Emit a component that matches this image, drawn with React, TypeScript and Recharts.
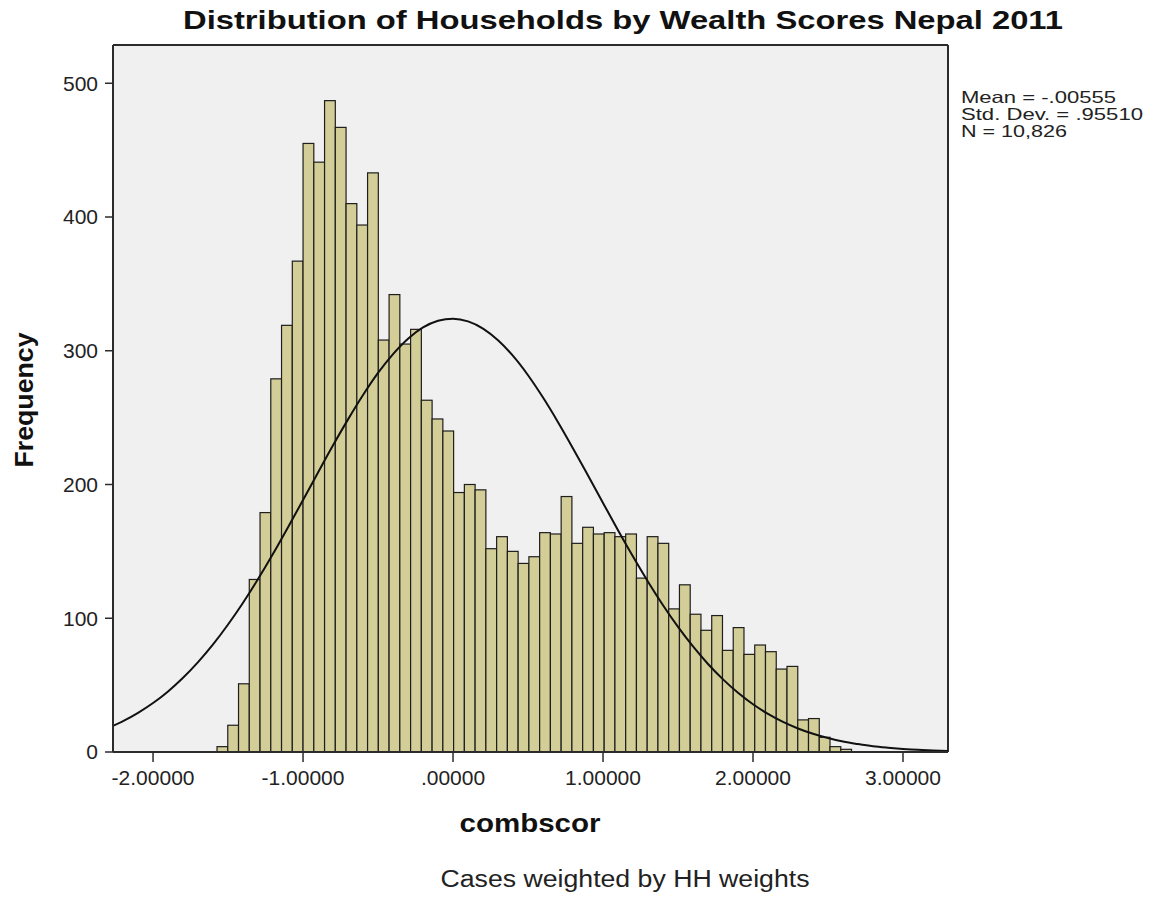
import React from 'react';
import { ComposedChart, Bar, Line, XAxis, YAxis, CartesianGrid, ReferenceLine } from 'recharts';

// ---- data ----
const BIN_START = -1.5735;
const BIN_WIDTH = 0.0717;
const binCounts = [
  4, 20, 51, 129, 179, 279, 319, 367, 455, 441,
  487, 467, 410, 394, 433, 308, 342, 305, 316, 263,
  249, 240, 194, 200, 196, 152, 161, 150, 141, 146,
  164, 163, 191, 156, 168, 163, 164, 161, 163, 130,
  161, 156, 107, 125, 103, 91, 102, 76, 93, 73,
  80, 75, 62, 64, 24, 25, 11, 4, 2,
];
const curveX = [
  -2.267, -2.2, -2.1, -2.0, -1.9, -1.8, -1.7, -1.6, -1.5, -1.4, -1.3, -1.2, -1.1, -1.0,
  -0.9, -0.8, -0.7, -0.6, -0.5, -0.4, -0.3, -0.2, -0.1, 0, 0.1, 0.2, 0.3, 0.4, 0.5,
  0.6, 0.7, 0.8, 0.9, 1.0, 1.1, 1.2, 1.3, 1.4, 1.5, 1.6, 1.7, 1.8, 1.9, 2.0, 2.1,
  2.2, 2.3, 2.4, 2.5, 2.6, 2.7, 2.8, 2.9, 3.0, 3.1, 3.2, 3.3,
];
const curveY = [
  19.6, 23.1, 29.3, 36.6, 45.3, 55.5, 67.2, 80.4, 95.3, 111.6, 129.3, 148.2, 168.1, 188.4,
  209.0, 229.3, 248.7, 266.9, 283.4, 297.5, 309.0, 317.4, 322.4, 324.0, 322.0, 316.6, 307.8, 296.1, 281.7,
  265.0, 246.6, 227.0, 206.7, 186.2, 165.8, 146.1, 127.3, 109.7, 93.5, 78.9, 65.8, 54.3, 44.3, 35.7, 28.5,
  22.5, 17.6, 13.6, 10.4, 7.8, 5.9, 4.3, 3.2, 2.3, 1.6, 1.2, 0.8,
];
const xTicks = [-2, -1, 0, 1, 2, 3];
const yTicks = [0, 100, 200, 300, 400, 500];
const statLines = ['Mean = -.00555', 'Std. Dev. = .95510', 'N = 10,826'];
const TITLE = 'Distribution of Households by Wealth Scores Nepal 2011';
const X_LABEL = 'combscor';
const Y_LABEL = 'Frequency';
const CAPTION = 'Cases weighted by HH weights';

// ---- layout ----
const W = 1151;
const H = 897;
const PLOT_L = 113;
const PLOT_R = 948;
const PLOT_T = 45;
const PLOT_B = 752;
const X_MIN = -2.267;
const X_MAX = 3.3;
const Y_MAX = 528.6;
const FONT = '"Liberation Sans", Arial, Helvetica, sans-serif';
const FRAME = '#2b2b2b';

const barData = binCounts.map((c, i) => ({ x: +(BIN_START + BIN_WIDTH * (i + 0.5)).toFixed(5), count: c }));
const curveData = curveX.map((x, i) => ({ x, y: curveY[i] }));

const fmtX = (v: number) => {
  const s = Math.abs(v).toFixed(5);
  const t = s.startsWith('0') ? s.slice(1) : s;
  return v < 0 ? '-' + t : t;
};

const HistBar = (props: any) => {
  const { x, y, width, height } = props;
  if (height == null || !(height > 0)) return null;
  const pxPerUnit = (PLOT_R - PLOT_L) / (X_MAX - X_MIN);
  const w = BIN_WIDTH * pxPerUnit;
  const cx = x + width / 2;
  return (
    <rect x={cx - w / 2} y={y} width={w} height={height} fill="#d3ce97" stroke="#1e1e1e" strokeWidth={1.2} />
  );
};

export default function App() {
  return (
    <div style={{ position: 'absolute', left: 0, top: 0, width: W, height: H, background: '#fff' }}>
      <ComposedChart
        width={W}
        height={H}
        data={barData}
        margin={{ top: PLOT_T, right: W - PLOT_R, bottom: 0, left: 0 }}
      >
        <CartesianGrid fill="#f0f0f0" horizontal={false} vertical={false} stroke="none" />
        <XAxis
          dataKey="x"
          type="number"
          domain={[X_MIN, X_MAX]}
          allowDataOverflow
          ticks={xTicks}
          tickFormatter={fmtX}
          height={H - PLOT_B}
          axisLine={{ stroke: FRAME, strokeWidth: 2 }}
          tickLine={{ stroke: FRAME, strokeWidth: 1.5 }}
          tickSize={10}
          tickMargin={8}
          tick={{ fontSize: 21, fill: '#222', fontFamily: FONT }}
        />
        <YAxis
          type="number"
          domain={[0, Y_MAX]}
          allowDataOverflow
          ticks={yTicks}
          width={PLOT_L}
          axisLine={{ stroke: FRAME, strokeWidth: 2 }}
          tickLine={{ stroke: FRAME, strokeWidth: 1.5 }}
          tickSize={8}
          tickMargin={7}
          tick={{ fontSize: 21, fill: '#222', fontFamily: FONT }}
        />
        <ReferenceLine y={Y_MAX} stroke={FRAME} strokeWidth={2} />
        <ReferenceLine x={X_MAX} stroke={FRAME} strokeWidth={2} />
        <Bar dataKey="count" barSize={10} shape={HistBar} isAnimationActive={false} />
        <Line
          data={curveData}
          dataKey="y"
          type="monotone"
          stroke="#111"
          strokeWidth={2}
          dot={false}
          activeDot={false}
          isAnimationActive={false}
        />
      </ComposedChart>
      <svg
        width={W}
        height={H}
        style={{ position: 'absolute', left: 0, top: 0, pointerEvents: 'none' }}
        fontFamily={FONT}
      >
        <text x={183} y={29} fontSize={25} fontWeight="bold" fill="#111" textLength={880} lengthAdjust="spacingAndGlyphs">
          {TITLE}
        </text>
        <text
          x={33}
          y={400}
          transform="rotate(-90, 33, 400)"
          textAnchor="middle"
          fontSize={25}
          fontWeight="bold"
          fill="#111"
          textLength={135}
          lengthAdjust="spacingAndGlyphs"
        >
          {Y_LABEL}
        </text>
        <text x={530} y={832} textAnchor="middle" fontSize={25} fontWeight="bold" fill="#111" textLength={141} lengthAdjust="spacingAndGlyphs">
          {X_LABEL}
        </text>
        <text x={625} y={887} textAnchor="middle" fontSize={23} fill="#222" textLength={369} lengthAdjust="spacingAndGlyphs">
          {CAPTION}
        </text>
        {statLines.map((s, i) => (
          <text
            key={s}
            x={961}
            y={103 + i * 17}
            fontSize={16.5}
            fill="#222"
            textLength={[155, 182, 106][i]}
            lengthAdjust="spacingAndGlyphs"
          >
            {s}
          </text>
        ))}
      </svg>
    </div>
  );
}
